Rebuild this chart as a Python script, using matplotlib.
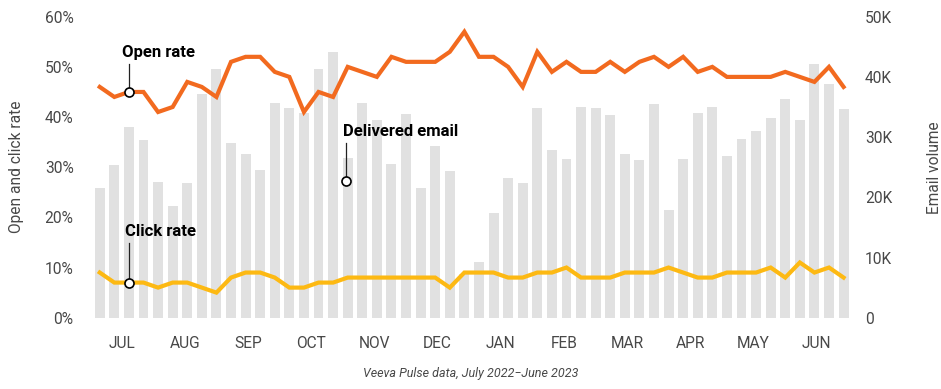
import matplotlib
matplotlib.use("Agg")
import matplotlib.pyplot as plt
import numpy as np

plt.rcParams["font.family"] = ["Roboto", "DejaVu Sans"]

# weekly data, July 2022 - June 2023
delivered_k = [21.5, 25.4, 31.6, 29.6, 22.5, 18.6, 22.4, 37.2, 41.3, 29.0,
               27.2, 24.5, 35.7, 34.8, 34.0, 41.3, 44.1, 26.5, 35.7, 32.9,
               25.5, 33.8, 21.5, 28.6, 24.3, 7.3, 9.3, 17.4, 23.2, 22.3,
               34.9, 27.9, 26.4, 35.0, 34.9, 33.7, 27.2, 26.2, 35.5, 17.9,
               26.4, 34.0, 35.0, 26.9, 29.7, 31.0, 33.2, 36.3, 32.8, 42.2,
               38.9, 34.7]
open_rate = [46, 44, 45, 45, 41, 42, 47, 46, 44, 51,
             52, 52, 49, 48, 41, 45, 44, 50, 49, 48,
             52, 51, 51, 51, 53, 57, 52, 52, 50, 46,
             53, 49, 51, 49, 49, 51, 49, 51, 52, 50,
             52, 49, 50, 48, 48, 48, 48, 49, 48, 47,
             50, 46]
click_rate = [9, 7, 7, 7, 6, 7, 7, 6, 5, 8,
              9, 9, 8, 6, 6, 7, 7, 8, 8, 8,
              8, 8, 8, 8, 6, 9, 9, 9, 8, 8,
              9, 9, 10, 8, 8, 8, 9, 9, 9, 10,
              9, 8, 8, 9, 9, 9, 10, 8, 11, 9,
              10, 8]
months = ["JUL", "AUG", "SEP", "OCT", "NOV", "DEC",
          "JAN", "FEB", "MAR", "APR", "MAY", "JUN"]

ORANGE = "#F26A1F"
YELLOW = "#FDB913"
BAR = "#E1E1E1"
TXT = "#484848"

weeks = np.arange(len(delivered_k))
volume = np.array(delivered_k) * 1000

fig = plt.figure(figsize=(9.41, 3.89), dpi=100)
ax = fig.add_axes([88.8 / 941, (389 - 317.7) / 389, (853.8 - 88.8) / 941, 301 / 389])
ax2 = ax.twinx()
ax.set_zorder(ax2.get_zorder() + 1)
ax.patch.set_visible(False)

ax2.bar(weeks, volume, width=0.68, color=BAR, zorder=1)
ax.plot(weeks, open_rate, color=ORANGE, lw=3, solid_joinstyle="miter", zorder=3)
ax.plot(weeks, click_rate, color=YELLOW, lw=3, solid_joinstyle="miter", zorder=3)

ax.set_xlim(-0.75, len(weeks) - 0.3)
ax.set_ylim(0, 60)
ax2.set_ylim(0, 50000)

ax.set_yticks(range(0, 61, 10))
ax.set_yticklabels([f"{v}%" for v in range(0, 61, 10)])
ax2.set_yticks(range(0, 50001, 10000))
ax2.set_yticklabels(["0"] + [f"{v}K" for v in range(10, 51, 10)])
ax.set_xticks(1.5 + np.arange(len(months)) * len(weeks) / 12)
ax.set_xticklabels(months)

for a in (ax, ax2):
    for s in a.spines.values():
        s.set_visible(False)
    a.tick_params(length=0, labelsize=11.2, labelcolor=TXT)
ax.tick_params(axis="y", pad=11)
ax2.tick_params(axis="y", pad=8)
ax.tick_params(axis="x", pad=13)

ax.set_ylabel("Open and click rate", fontsize=11.2, color=TXT, labelpad=15)
ax2.set_ylabel("Email volume", fontsize=11.2, color=TXT, labelpad=25)

# annotations
ax.text(1.55, 52.9, "Open rate", fontsize=12, fontweight="bold", va="center", ha="left")
ax.plot([2, 2], [50.5, 45], color="#222222", lw=0.9, zorder=4)
ax.plot(2, 45, "o", ms=6.5, mfc="white", mec="black", mew=1.2, zorder=5)

ax.text(1.7, 17.1, "Click rate", fontsize=12, fontweight="bold", va="center", ha="left")
ax.plot([2, 2], [14.9, 7], color="#222222", lw=0.9, zorder=4)
ax.plot(2, 7, "o", ms=6.5, mfc="white", mec="black", mew=1.2, zorder=5)

ax2.text(16.66, 31000, "Delivered email", fontsize=12, fontweight="bold", va="center", ha="left", zorder=4)
ax2.plot([16.9, 16.9], [29000, 22700], color="#222222", lw=0.9, zorder=4)
ax2.plot(16.9, 22700, "o", ms=6.5, mfc="white", mec="black", mew=1.2, zorder=5)

fig.text(471 / 941, 1 - 373 / 389, "Veeva Pulse data, July 2022\u2212June 2023",
         fontsize=9, style="italic", color=TXT, ha="center", va="center")

fig.savefig("out.png", dpi=100)
